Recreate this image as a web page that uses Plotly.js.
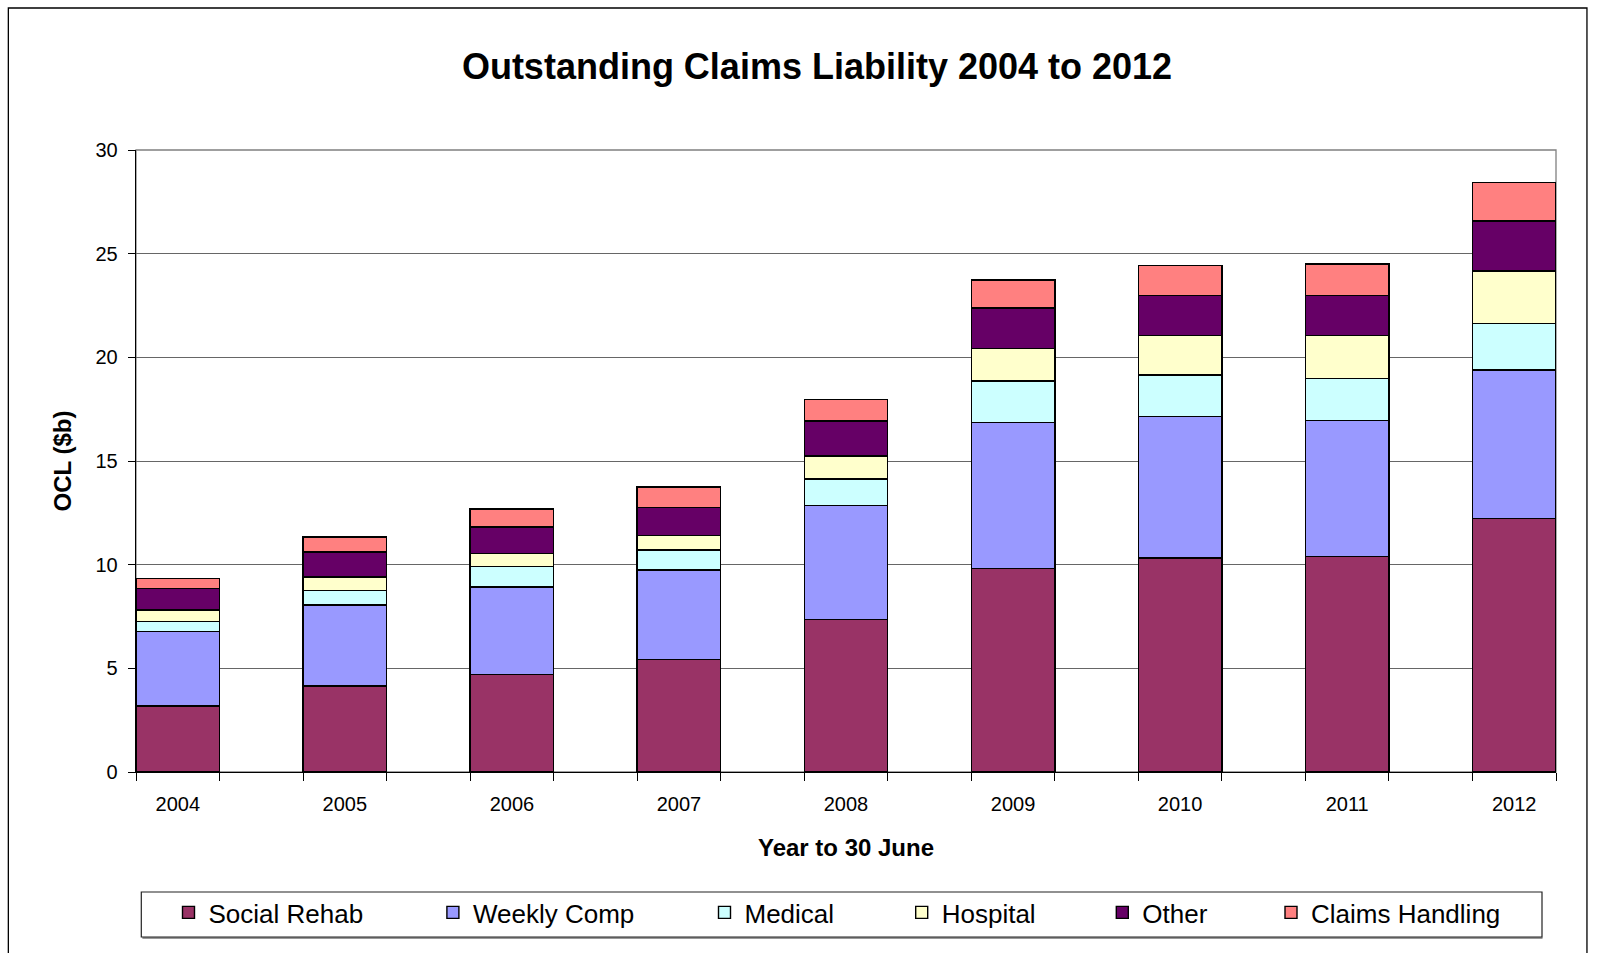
<!DOCTYPE html>
<html>
<head>
<meta charset="utf-8">
<script src="https://cdn.plot.ly/plotly-3.0.1.min.js"></script>
<style>html,body{margin:0;padding:0;background:#fff;}#chart{width:1605px;height:953px;}</style>
</head>
<body>
<div id="chart"></div>
<script>
// ---- data ----
var years = ["2004","2005","2006","2007","2008","2009","2010","2011","2012"];
var seriesNames = ["Social Rehab","Weekly Comp","Medical","Hospital","Other","Claims Handling"];
var socialRehab    = [3.19, 4.15, 4.69, 5.43, 7.35, 9.82, 10.32, 10.40, 12.24];
var weeklyComp     = [3.58, 3.91, 4.23, 4.31, 5.50, 7.05, 6.82, 6.56, 7.14];
var medical        = [0.50, 0.70, 0.98, 0.96, 1.28, 1.99, 2.00, 2.02, 2.24];
var hospital       = [0.55, 0.64, 0.64, 0.72, 1.12, 1.58, 1.90, 2.06, 2.54];
var other          = [1.04, 1.22, 1.28, 1.35, 1.68, 1.94, 1.94, 1.94, 2.42];
var claimsHandling = [0.48, 0.72, 0.87, 0.98, 1.05, 1.35, 1.44, 1.52, 1.84];
var yTicks = [0, 5, 10, 15, 20, 25, 30];

// ---- styles ----
var colors = ["#993366","#9999FF","#CCFFFF","#FFFFCC","#660066","#FF8080"];
var legendX = [168.5, 432.9, 704.5, 901.7, 1102.3, 1271]; // px positions of legend entries
var W = 1605, H = 953;
var FONT = "Liberation Sans, Arial, sans-serif";

var values = [socialRehab, weeklyComp, medical, hospital, other, claimsHandling];
var idx = years.map(function(_, i){ return i; });
var barW = 0.5;
var edges = [];
idx.forEach(function(i){ edges.push(i - barW/2); edges.push(i + barW/2); });

var traces = values.map(function(v, k){
  return {
    type: "bar", name: seriesNames[k], x: idx, y: v, width: barW,
    marker: {color: colors[k], line: {color: "#000", width: 1.4}},
    legend: k === 0 ? "legend" : "legend" + (k + 1),
    hoverinfo: "skip"
  };
});
traces.push({type: "scatter", x: [], y: [], xaxis: "x2", yaxis: "y", showlegend: false, hoverinfo: "skip"});

var layout = {
  width: W, height: H,
  paper_bgcolor: "#fff", plot_bgcolor: "#fff",
  font: {family: FONT, color: "#000"},
  margin: {l: 135.7, r: 49, t: 150, b: 181},
  barmode: "stack",
  showlegend: true,
  title: {text: "<b>Outstanding Claims Liability 2004 to 2012</b>", font: {size: 36, family: FONT, color: "#000"},
          x: 817 / W, xref: "container", xanchor: "center", y: 1 - 66.5 / H, yref: "container", yanchor: "middle"},
  xaxis: {
    range: [-0.25, years.length - 0.75], tickvals: idx, ticktext: years, ticks: "",
    tickfont: {size: 20, family: FONT, color: "#000"}, ticklabelstandoff: 14,
    showgrid: false, zeroline: false, showline: true, linecolor: "#000", linewidth: 1.3,
    title: {text: "<b>Year to 30 June</b>", font: {size: 24, family: FONT, color: "#000"}, standoff: 25},
    fixedrange: true
  },
  xaxis2: {
    overlaying: "x", anchor: "y", side: "bottom", matches: "x",
    range: [-0.25, years.length - 0.75], tickvals: edges, showticklabels: false,
    ticks: "outside", ticklen: 8, tickcolor: "#000", tickwidth: 1,
    showgrid: false, zeroline: false, showline: false
  },
  yaxis: {
    range: [0, 30], tickvals: yTicks, ticks: "outside", ticklen: 7, tickcolor: "#000", tickwidth: 1,
    tickfont: {size: 20, family: FONT, color: "#000"}, ticklabelstandoff: 6,
    showgrid: true, gridcolor: "#666", gridwidth: 1,
    zeroline: false, showline: true, linecolor: "#000", linewidth: 1.3,
    title: {text: "<b>OCL ($b)</b>", font: {size: 24, family: FONT, color: "#000"}, standoff: 17},
    fixedrange: true
  },
  shapes: [
    {type: "rect", xref: "paper", yref: "paper", x0: 0, x1: 1, y0: 0, y1: 1, line: {color: "#808080", width: 1.3}, layer: "below"},
    {type: "line", xref: "paper", yref: "paper", x0: 0.0045, x1: 0.9905, y0: -0.2668, y1: -0.2668, line: {color: "#999", width: 2}},
    {type: "rect", xref: "paper", yref: "paper", x0: 0.00373, x1: 0.99014, y0: -0.2653, y1: -0.1929, line: {color: "#222", width: 1.2}, fillcolor: "rgba(0,0,0,0)"},
    {type: "rect", xref: "paper", yref: "paper", x0: -0.0899, x1: 1.0218, y0: -0.31, y1: 1.2283, line: {color: "#000", width: 1.3}, fillcolor: "rgba(0,0,0,0)"}
  ]
};

legendX.forEach(function(px, k){
  var key = k === 0 ? "legend" : "legend" + (k + 1);
  layout[key] = {
    orientation: "h", xref: "container", yref: "container",
    x: px / W, xanchor: "left", y: 1 - 912.5 / H, yanchor: "middle",
    bgcolor: "rgba(0,0,0,0)", borderwidth: 0,
    font: {size: 26, family: FONT, color: "#000"}
  };
});

Plotly.newPlot("chart", traces, layout, {displayModeBar: false, staticPlot: true});
</script>
</body>
</html>
